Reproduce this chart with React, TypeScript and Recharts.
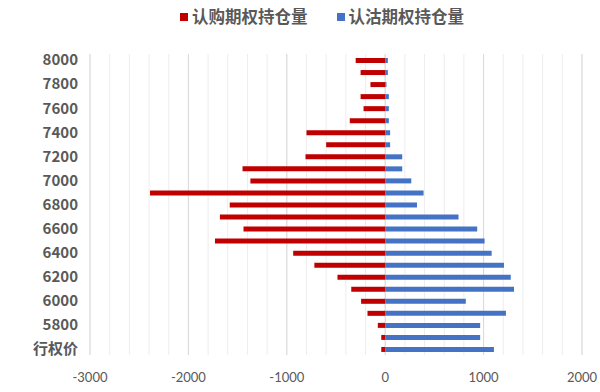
import React from "react";
import { BarChart, Bar, XAxis, YAxis, Legend, CartesianGrid } from "recharts";

// strike prices, top to bottom
const strikes = [
  "8000", "7900", "7800", "7700", "7600", "7500", "7400", "7300", "7200",
  "7100", "7000", "6900", "6800", "6700", "6600", "6500", "6400", "6300",
  "6200", "6100", "6000", "5900", "5800", "5700", "行权价",
];

// call open interest (shown as negative)
const callOI = [
  -300, -250, -150, -250, -220, -360, -800, -600, -810,
  -1450, -1370, -2390, -1580, -1680, -1440, -1730, -935, -720,
  -485, -345, -245, -180, -75, -40, -40,
];

// put open interest
const putOI = [
  27, 27, 13, 37, 37, 37, 50, 50, 173,
  173, 265, 390, 323, 745, 935, 1010, 1082, 1207,
  1276, 1309, 819, 1227, 965, 965, 1105,
];

const xDomain: [number, number] = [-3000, 2000];
const xTicks = [-3000, -2000, -1000, 0, 1000, 2000];
const minorGrid = Array.from({ length: 26 }, (_, i) => -3000 + i * 200);

const seriesNames = ["认购期权持仓量", "认沽期权持仓量"];
const seriesColors = ["#C00000", "#4472C4"];

const data = strikes.map((s, i) => ({ strike: s, call: callOI[i], put: putOI[i] }));

const CJK = '"Noto Sans CJK SC", "Noto Sans", sans-serif';

const renderLegend = () => (
  <div style={{ display: "flex", paddingLeft: 180, gap: 29, fontFamily: CJK, lineHeight: "20px" }}>
    {seriesNames.map((name, i) => (
      <div key={name} style={{ display: "flex", alignItems: "center" }}>
        <span
          style={{ width: 8, height: 8, background: seriesColors[i], display: "inline-block", marginRight: 4, marginTop: 2 }}
        />
        <span style={{ fontSize: 16.5, fontWeight: 700, color: "#595959" }}>{name}</span>
      </div>
    ))}
  </div>
);

// grid lines at given axis values (linear x axis)
const gridAt = (values: number[]) => (props: any) => {
  const { offset } = props;
  if (!offset) return [];
  const [lo, hi] = xDomain;
  return values.map((v) => offset.left + ((v - lo) / (hi - lo)) * offset.width);
};

export default function App() {
  return (
    <div style={{ position: "fixed", left: 0, top: 0, width: 600, height: 392, background: "#fff" }}>
      <BarChart
        width={600}
        height={392}
        data={data}
        layout="vertical"
        stackOffset="sign"
        barSize={5}
        margin={{ top: 34, right: 18, bottom: 7, left: 0 }}
      >
        <CartesianGrid
          horizontal={false}
          stroke="#ededed"
          verticalCoordinatesGenerator={gridAt(minorGrid)}
        />
        <CartesianGrid
          horizontal={false}
          stroke="#d9d9d9"
          verticalCoordinatesGenerator={gridAt(xTicks)}
        />
        <XAxis
          type="number"
          domain={xDomain}
          ticks={xTicks}
          axisLine={false}
          tickLine={false}
          tickMargin={12}
          height={30}
          tick={{ fill: "#595959", fontSize: 13, fontFamily: "Lato, sans-serif" }}
        />
        <YAxis
          type="category"
          dataKey="strike"
          width={90}
          interval={1}
          axisLine={false}
          tickLine={false}
          tickMargin={6}
          tick={{ fill: "#595959", fontSize: 15, fontWeight: 700, fontFamily: CJK }}
        />
        <Legend
          verticalAlign="top"
          content={renderLegend}
          wrapperStyle={{ top: 6, left: 0, width: 600 }}
        />
        <Bar dataKey="call" name={seriesNames[0]} stackId="a" fill={seriesColors[0]} isAnimationActive={false} />
        <Bar dataKey="put" name={seriesNames[1]} stackId="a" fill={seriesColors[1]} isAnimationActive={false} />
      </BarChart>
    </div>
  );
}
